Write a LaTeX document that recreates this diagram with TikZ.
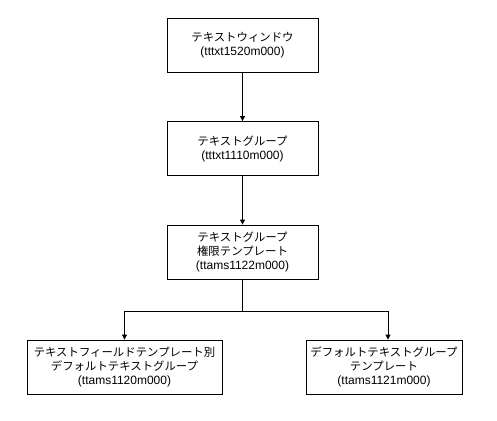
\documentclass[tikz,border=0pt]{standalone}
\usepackage{fontspec}
\setmainfont{Liberation Sans}
\newfontfamily\jp[Scale=0.95]{Noto Sans CJK JP}
\usetikzlibrary{arrows.meta}
\begin{document}
\begin{tikzpicture}[x=1pt,y=-1pt,
  box/.style={draw=black,line width=0.8pt,fill=white,minimum width=#1,minimum height=54pt,inner sep=0pt,align=center,font=\fontsize{12pt}{14pt}\selectfont},
  box/.default=151pt,
  conn/.style={draw=black,line width=0.8pt},
  arr/.style={conn,-{Triangle[width=5pt,length=5pt]}}]
\useasboundingbox (0,0) rectangle (497,420);
\node[box] (a) at (242.5,45) {{\jp テキストウィンドウ}\\(tttxt1520m000)};
\node[box] (b) at (242.5,148.5) {{\jp テキストグループ}\\(tttxt1110m000)};
\node[box] (c) at (242.5,252) {{\jp テキストグループ}\\{\jp 権限テンプレート}\\(ttams1122m000)};
\node[box=195pt] (d) at (124.5,367) {{\jp テキストフィールドテンプレート別}\\{\jp デフォルトテキストグループ}\\(ttams1120m000)};
\node[box=156pt] (e) at (384,367) {{\jp デフォルトテキストグループ}\\{\jp テンプレート}\\(ttams1121m000)};
\coordinate (j) at (242.5,311);
\draw[arr] (a) -- (b);
\draw[arr] (b) -- (c);
\draw[conn] (c) -- (j);
\draw[arr] (j) -| (d.north);
\draw[arr] (j) -| ([xshift=4pt]e.north);
\end{tikzpicture}
\end{document}
